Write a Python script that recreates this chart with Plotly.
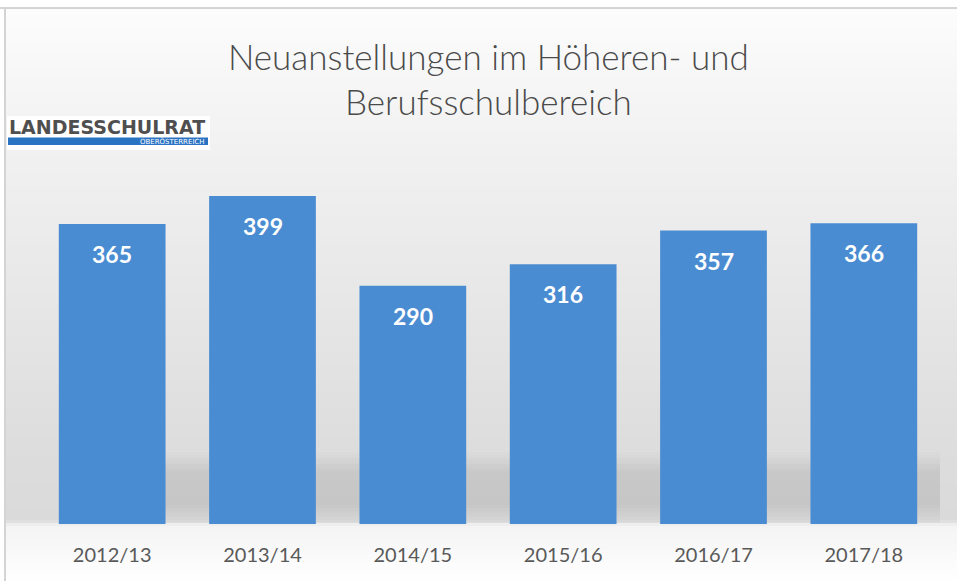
import plotly.graph_objects as go

# ---------------- data ----------------
categories = ["2012/13", "2013/14", "2014/15", "2015/16", "2016/17", "2017/18"]
values = [365, 399, 290, 316, 357, 366]
title_lines = ["Neuanstellungen im Höheren- und", "Berufsschulbereich"]
logo_main = "LANDESSCHULRAT"
logo_sub = "OBERÖSTERREICH"

# ---------------- geometry ----------------
W, H = 957, 581
ML, MR, MT, MB = 37, 18, 150, 57
PW = W - ML - MR
PH = H - MT - MB


def px_x(px):
    return (px - ML) / PW


def px_y(py):
    return (H - MB - py) / PH


def hex2rgb(h):
    h = h.lstrip("#")
    return tuple(int(h[i:i + 2], 16) for i in (0, 2, 4))


def lerp_col(c0, c1, t):
    a, b = hex2rgb(c0), hex2rgb(c1)
    return "rgb(%d,%d,%d)" % tuple(round(a[i] + (b[i] - a[i]) * t) for i in range(3))


def gradient_strips(x0, x1, stops, step=3):
    shapes = []
    for (ya, ca), (yb, cb) in zip(stops[:-1], stops[1:]):
        y = ya
        while y < yb:
            y2 = min(y + step, yb)
            t = ((y + y2) / 2 - ya) / (yb - ya)
            shapes.append(dict(type="rect", xref="paper", yref="paper",
                               x0=px_x(x0), x1=px_x(x1), y0=px_y(y2 + 0.5), y1=px_y(y),
                               fillcolor=lerp_col(ca, cb, t), line=dict(width=0),
                               layer="below"))
            y = y2
    return shapes


bg_stops = [(9, "#FCFCFC"), (150, "#F1F1F1"), (300, "#E7E7E7"),
            (445, "#DDDDDD"), (520, "#DADADA"), (526, "#F4F4F4"), (581, "#FFFFFF")]
shadow_stops = [(452, "#DCDCDC"), (472, "#C8C8C8"), (505, "#C6C6C6"), (522, "#D8D8D8")]

shapes = []
shapes += gradient_strips(6, W, bg_stops)
shapes += gradient_strips(120, 940, shadow_stops)
# frame lines
shapes.append(dict(type="line", xref="paper", yref="paper", x0=px_x(0), x1=px_x(W),
                   y0=px_y(8), y1=px_y(8), line=dict(color="#D4D4D4", width=2), layer="below"))
shapes.append(dict(type="line", xref="paper", yref="paper", x0=px_x(5), x1=px_x(5),
                   y0=px_y(8), y1=px_y(H), line=dict(color="#D4D4D4", width=2), layer="below"))
# logo background and blue band
shapes.append(dict(type="rect", xref="paper", yref="paper", x0=px_x(7), x1=px_x(210),
                   y0=px_y(150), y1=px_y(116), fillcolor="#FFFFFF", line=dict(width=0), layer="below"))
shapes.append(dict(type="rect", xref="paper", yref="paper", x0=px_x(8), x1=px_x(208),
                   y0=px_y(145), y1=px_y(137.5), fillcolor="#2A72C2", line=dict(width=0), layer="below"))

fig = go.Figure(go.Bar(
    x=categories, y=values, width=0.71,
    marker=dict(color="#4A8CD2", line=dict(width=0)),
    hovertemplate="%{x}: %{y}<extra></extra>",
))

annotations = []
for c, v in zip(categories, values):
    annotations.append(dict(x=c, y=v, xref="x", yref="y", text=str(v), showarrow=False,
                            yshift=-30, yanchor="middle",
                            font=dict(family="Lato", size=23, color="#FFFFFF", weight="bold")))

title_font = dict(family="Lato", size=35, color="#4A4A4A", weight=300)
annotations.append(dict(xref="paper", yref="paper", x=0.5, y=px_y(56), text=title_lines[0],
                        showarrow=False, xanchor="center", yanchor="middle", font=title_font))
annotations.append(dict(xref="paper", yref="paper", x=0.5, y=px_y(101), text=title_lines[1],
                        showarrow=False, xanchor="center", yanchor="middle", font=title_font))
annotations.append(dict(xref="paper", yref="paper", x=px_x(7), y=px_y(126.5), text=logo_main,
                        showarrow=False, xanchor="left", yanchor="middle",
                        font=dict(family="DejaVu Sans", size=19, color="#4F4F4F", weight="bold")))
annotations.append(dict(xref="paper", yref="paper", x=px_x(207), y=px_y(141.5), text=logo_sub,
                        showarrow=False, xanchor="right", yanchor="middle",
                        font=dict(family="DejaVu Sans", size=7, color="#FFFFFF")))

fig.update_layout(
    width=W, height=H,
    margin=dict(l=ML, r=MR, t=MT, b=MB, pad=0),
    paper_bgcolor="#FFFFFF", plot_bgcolor="rgba(0,0,0,0)",
    showlegend=False,
    bargap=0.29,
    shapes=shapes,
    annotations=annotations,
    xaxis=dict(showgrid=False, showline=False, zeroline=False, ticks="",
               tickfont=dict(family="Lato", size=20, color="#595959"),
               ticklabelstandoff=17),
    yaxis=dict(visible=False, range=[0, 455], fixedrange=True),
)

fig.write_html("out.html", config={"displayModeBar": False},
               post_script="document.body.style.margin='0px';")
